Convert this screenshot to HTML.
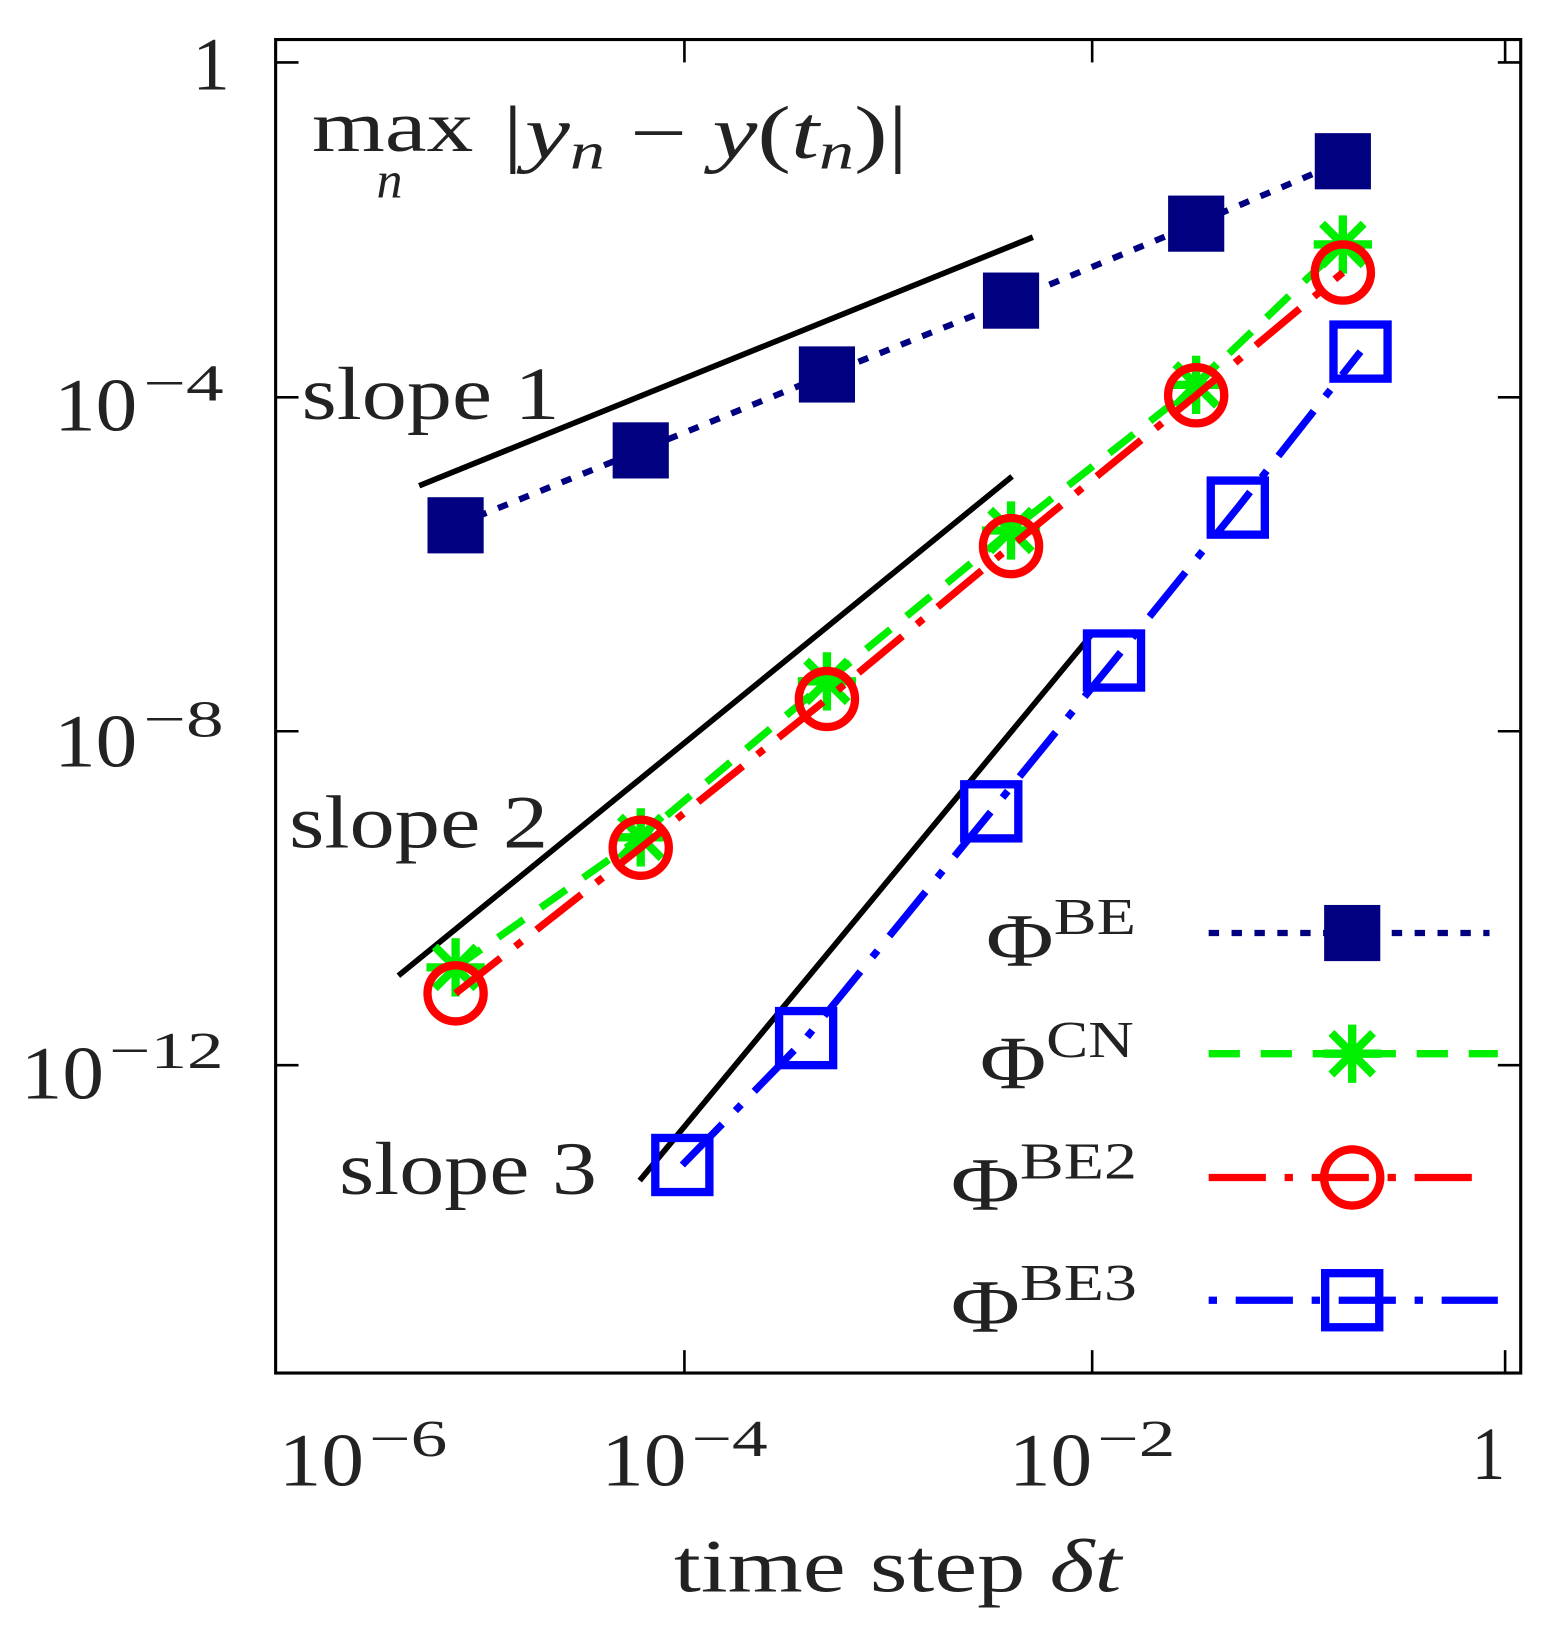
<!DOCTYPE html>
<html><head><style>html,body{margin:0;padding:0;background:#fff}svg{display:block}</style></head>
<body>
<svg width="1554" height="1631" viewBox="0 0 1494 1568" xmlns="http://www.w3.org/2000/svg" font-family="Liberation Serif, serif" fill="#222">
<rect x="265" y="38" width="1197" height="1282" fill="none" stroke="#000" stroke-width="3"/>
<g stroke="#000" stroke-width="2.5">
<line x1="658" y1="1320" x2="658" y2="1298"/><line x1="1050" y1="1320" x2="1050" y2="1298"/><line x1="1447" y1="1320" x2="1447" y2="1298"/>
<line x1="658" y1="38" x2="658" y2="60"/><line x1="1050" y1="38" x2="1050" y2="60"/><line x1="1447" y1="38" x2="1447" y2="60"/>
<line x1="265" y1="60" x2="287" y2="60"/><line x1="265" y1="382" x2="287" y2="382"/><line x1="265" y1="703" x2="287" y2="703"/><line x1="265" y1="1024" x2="287" y2="1024"/>
<line x1="1462" y1="60" x2="1440" y2="60"/><line x1="1462" y1="382" x2="1440" y2="382"/><line x1="1462" y1="703" x2="1440" y2="703"/><line x1="1462" y1="1024" x2="1440" y2="1024"/>
</g>
<g font-size="72" lengthAdjust="spacingAndGlyphs">
<text x="185" y="86" textLength="30">1</text>
<text x="52" y="414" textLength="80" lengthAdjust="spacingAndGlyphs">10</text><text x="138" y="385" font-size="50" textLength="77" lengthAdjust="spacingAndGlyphs">−4</text>
<text x="52" y="737" textLength="80" lengthAdjust="spacingAndGlyphs">10</text><text x="138" y="708" font-size="50" textLength="77" lengthAdjust="spacingAndGlyphs">−8</text>
<text x="20" y="1056" textLength="80" lengthAdjust="spacingAndGlyphs">10</text><text x="105" y="1027" font-size="50" textLength="110" lengthAdjust="spacingAndGlyphs">−12</text>
</g>
<g font-size="72">
<text x="268" y="1428" textLength="82" lengthAdjust="spacingAndGlyphs">10</text><text x="355" y="1400" font-size="50" textLength="75" lengthAdjust="spacingAndGlyphs">−6</text>
<text x="578" y="1428" textLength="82" lengthAdjust="spacingAndGlyphs">10</text><text x="665" y="1400" font-size="50" textLength="73" lengthAdjust="spacingAndGlyphs">−4</text>
<text x="970" y="1428" textLength="80" lengthAdjust="spacingAndGlyphs">10</text><text x="1055" y="1400" font-size="50" textLength="75" lengthAdjust="spacingAndGlyphs">−2</text>
<text x="1415" y="1422" textLength="32" lengthAdjust="spacingAndGlyphs">1</text>
</g>
<text x="648" y="1530" font-size="72" textLength="430" lengthAdjust="spacingAndGlyphs">time step <tspan font-style="italic">δt</tspan></text>
<text x="300" y="145" font-size="70" textLength="155" lengthAdjust="spacingAndGlyphs">max</text>
<text x="362" y="190" font-size="50" font-style="italic">n</text>
<text x="478" y="152" font-size="72" font-style="italic" textLength="395" lengthAdjust="spacingAndGlyphs">|y<tspan font-size="50" dy="10">n</tspan><tspan dy="-10" font-style="normal"> − </tspan>y<tspan font-style="normal">(</tspan>t<tspan font-size="50" dy="10">n</tspan><tspan dy="-10" font-style="normal">)|</tspan></text>
<g font-size="72">
<text x="290" y="403" textLength="248" lengthAdjust="spacingAndGlyphs">slope 1</text>
<text x="278" y="815" textLength="249" lengthAdjust="spacingAndGlyphs">slope 2</text>
<text x="326" y="1148" textLength="248" lengthAdjust="spacingAndGlyphs">slope 3</text>
</g>
<g stroke="#000" stroke-width="5.5">
<line x1="403" y1="467" x2="993" y2="228"/>
<line x1="383" y1="938" x2="973" y2="458"/>
<line x1="615" y1="1135" x2="1052" y2="607"/>
</g>
<polyline points="438,505 616,433 795,360 972,289 1150,215 1291,155" fill="none" stroke="#000080" stroke-width="6" stroke-dasharray="10,12"/>
<g fill="#000080">
<rect x="411" y="478" width="54" height="54"/><rect x="589" y="406" width="54" height="54"/><rect x="768" y="333" width="54" height="54"/><rect x="945" y="262" width="54" height="54"/><rect x="1123" y="188" width="54" height="54"/><rect x="1264" y="128" width="54" height="54"/>
</g>
<defs>
<g id="star" stroke="#00ee00" stroke-width="8"><line x1="-28" y1="0" x2="28" y2="0"/><line x1="0" y1="-28" x2="0" y2="28"/><line x1="-20" y1="-20" x2="20" y2="20"/><line x1="-20" y1="20" x2="20" y2="-20"/></g>
</defs>
<polyline points="438,930 616,805 795,655 972,510 1150,370 1291,235" fill="none" stroke="#00ee00" stroke-width="7" stroke-dasharray="30,20"/>
<use href="#star" x="438" y="930"/><use href="#star" x="616" y="805"/><use href="#star" x="795" y="655"/><use href="#star" x="972" y="510"/><use href="#star" x="1150" y="370"/><use href="#star" x="1291" y="235"/>
<polyline points="438,955 616,815 795,672 972,525 1150,380 1291,262" fill="none" stroke="#ff0000" stroke-width="7" stroke-dasharray="55,18,8,18"/>
<g fill="none" stroke="#ff0000" stroke-width="8">
<circle cx="438" cy="955" r="27"/><circle cx="616" cy="815" r="27"/><circle cx="795" cy="672" r="27"/><circle cx="972" cy="525" r="27"/><circle cx="1150" cy="380" r="27"/><circle cx="1291" cy="262" r="27"/>
</g>
<polyline points="656,1120 775,998 953,780 1071,635 1190,488 1308,338" fill="none" stroke="#0000ff" stroke-width="7" stroke-dasharray="55,18,8,18"/>
<g fill="none" stroke="#0000ff" stroke-width="8">
<rect x="630" y="1094" width="52" height="52"/><rect x="749" y="972" width="52" height="52"/><rect x="927" y="754" width="52" height="52"/><rect x="1045" y="609" width="52" height="52"/><rect x="1164" y="462" width="52" height="52"/><rect x="1282" y="312" width="52" height="52"/>
</g>
<g font-size="72">
<text x="948" y="928" textLength="144" lengthAdjust="spacingAndGlyphs">Φ<tspan font-size="50" dy="-30">BE</tspan></text>
<text x="942" y="1046" textLength="148" lengthAdjust="spacingAndGlyphs">Φ<tspan font-size="50" dy="-30">CN</tspan></text>
<text x="914" y="1163" textLength="179" lengthAdjust="spacingAndGlyphs">Φ<tspan font-size="50" dy="-30">BE2</tspan></text>
<text x="914" y="1280" textLength="179" lengthAdjust="spacingAndGlyphs">Φ<tspan font-size="50" dy="-30">BE3</tspan></text>
</g>
<line x1="1162" y1="897" x2="1432" y2="897" stroke="#000080" stroke-width="6" stroke-dasharray="10,12"/>
<rect x="1273" y="870" width="54" height="54" fill="#000080"/>
<line x1="1162" y1="1013" x2="1440" y2="1013" stroke="#00ee00" stroke-width="7" stroke-dasharray="30,20"/>
<use href="#star" x="1300" y="1013"/>
<line x1="1162" y1="1132" x2="1430" y2="1132" stroke="#ff0000" stroke-width="7" stroke-dasharray="55,18,8,18"/>
<circle cx="1300" cy="1132" r="27" fill="none" stroke="#ff0000" stroke-width="8"/>
<line x1="1162" y1="1250" x2="1440" y2="1250" stroke="#0000ff" stroke-width="7" stroke-dasharray="8,18,55,18"/>
<rect x="1274" y="1224" width="52" height="52" fill="none" stroke="#0000ff" stroke-width="8"/>
</svg>
</body></html>
